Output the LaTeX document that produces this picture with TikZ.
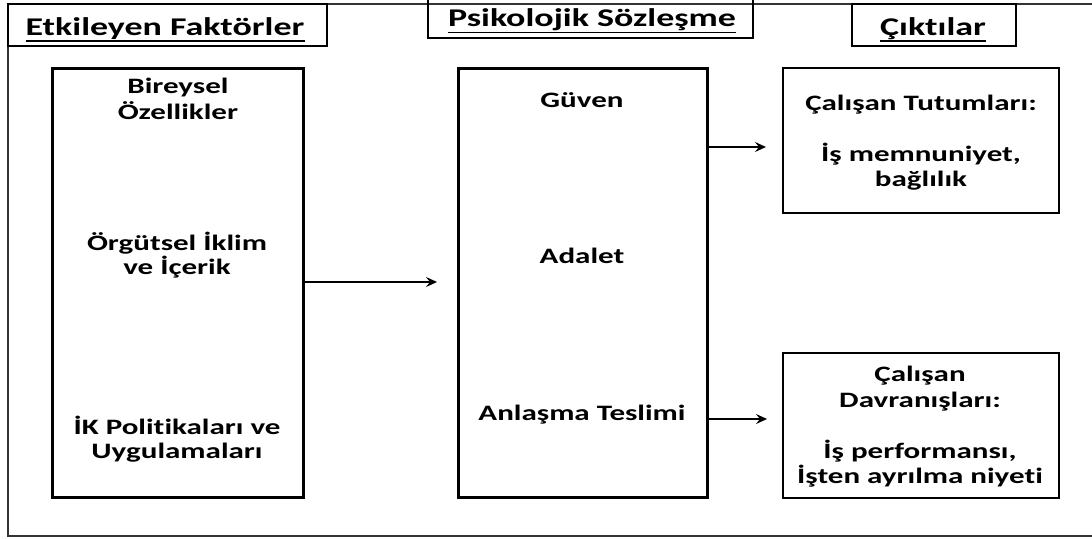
\documentclass[tikz,border=0pt]{standalone}
\usepackage{fontspec}
\setmainfont{Carlito}[FakeStretch=1.41,Ligatures=NoCommon]
\usetikzlibrary{arrows.meta}
\begin{document}
\begin{tikzpicture}[x=1pt,y=-1pt,
  thickbox/.style={draw, line width=3pt, inner sep=0pt, outer sep=0pt},
  thinbox/.style={draw, line width=1.6pt, inner sep=0pt, outer sep=0pt},
  ttl/.style={font=\fontsize{25.5}{30}\selectfont\bfseries, inner sep=0pt, anchor=base},
  txt/.style={font=\fontsize{22}{25}\selectfont\bfseries, inner sep=0pt, anchor=base},
  uline/.style={line width=1.8pt},
  conn/.style={line width=1.8pt, -{Stealth[length=11pt,width=10pt,inset=4pt]}}]
\useasboundingbox (0,0) rectangle (1092,538);
% outer frame
\coordinate (f1) at (1092,4);
\coordinate (f2) at (8,4);
\coordinate (f3) at (8,536);
\coordinate (f4) at (1092,536);
\draw[line width=1.8pt, black!80] (f1) -- (f2) -- (f3) -- (f4);
% title boxes
\node[thinbox, minimum width=319pt, minimum height=42pt] (T1) at (167.5,25) {};
\coordinate (t2a) at (428,0);
\coordinate (t2b) at (428,38);
\coordinate (t2c) at (753,38);
\coordinate (t2d) at (753,0);
\draw[line width=1.6pt] (t2a) -- (t2b) -- (t2c) -- (t2d);
\node[thinbox, minimum width=164pt, minimum height=42pt] (T3) at (934,25) {};
\node[ttl] (t1txt) at (165,35) {Etkileyen Faktörler};
\node[ttl] (t2txt) at (592,27) {Psikolojik Sözleşme};
\node[ttl] (t3txt) at (933,35) {Çıktılar};
\draw[uline] ([yshift=-6pt]t1txt.base west) -- ([yshift=-6pt]t1txt.base east);
\draw[uline] ([yshift=-5.5pt]t2txt.base west) -- ([yshift=-5.5pt]t2txt.base east);
\draw[uline] ([yshift=-6pt]t3txt.base west) -- ([yshift=-6pt]t3txt.base east);
% boxes
\node[thickbox, minimum width=251pt, minimum height=429pt] (L) at (177.5,282.5) {};
\node[thickbox, minimum width=249pt, minimum height=429pt] (M) at (582.5,282.5) {};
\node[thinbox, minimum width=276pt, minimum height=145pt] (RT) at (921,140.5) {};
\node[thinbox, minimum width=276pt, minimum height=145pt] (RB) at (921,425.5) {};
% texts
\node[txt] (l1a) at (178,93) {Bireysel};
\node[txt] (l1b) at (178,119) {Özellikler};
\node[txt] (l2a) at (177,250) {Örgütsel İklim};
\node[txt] (l2b) at (177,274) {ve İçerik};
\node[txt] (l3a) at (177,434) {İK Politikaları ve};
\node[txt] (l3b) at (177,458) {Uygulamaları};
\node[txt] (m1) at (582,107) {Güven};
\node[txt] (m2) at (582,263) {Adalet};
\node[txt] (m3) at (582,420) {Anlaşma Teslimi};
\node[txt] (r1) at (921,110) {Çalışan Tutumları:};
\node[txt] (r2a) at (921,161) {İş memnuniyet,};
\node[txt] (r2b) at (921,186) {bağlılık};
\node[txt] (r3a) at (920,381) {Çalışan};
\node[txt] (r3b) at (920,407) {Davranışları:};
\node[txt] (r4a) at (920,458) {İş performansı,};
\node[txt] (r4b) at (920,483) {İşten ayrılma niyeti};
% arrows
\coordinate (a1) at (437,282);
\coordinate (a2) at (766,147);
\coordinate (a3) at (767,419);
\draw[conn] (L.east |- a1) -- (a1);
\draw[conn] (M.east |- a2) -- (a2);
\draw[conn] (M.east |- a3) -- (a3);
\end{tikzpicture}
\end{document}
